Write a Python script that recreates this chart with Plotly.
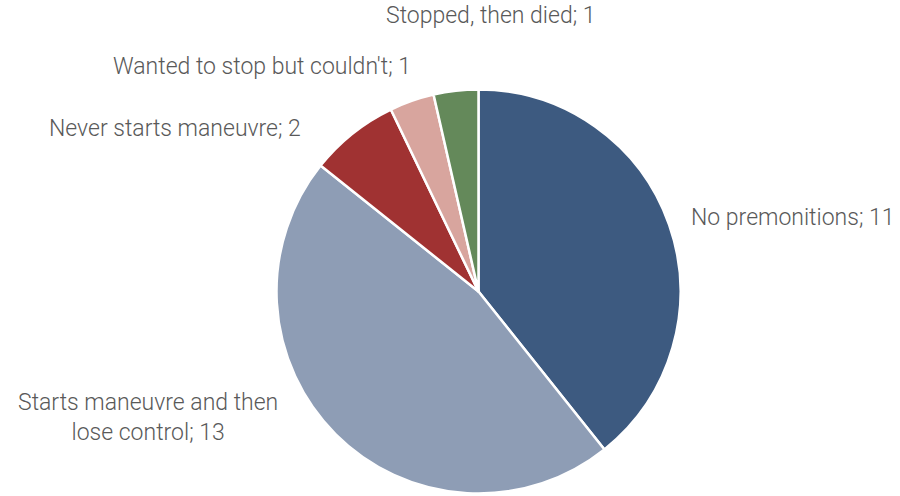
import plotly.graph_objects as go

# Outcome categories and counts
categories = [
    "No premonitions",
    "Starts maneuvre and then lose control",
    "Never starts maneuvre",
    "Wanted to stop but couldn't",
    "Stopped, then died",
]
counts = [11, 13, 2, 1, 1]
label_texts = [
    "No premonitions; 11",
    "Starts maneuvre and then<br>lose control; 13",
    "Never starts maneuvre; 2",
    "Wanted to stop but couldn't; 1",
    "Stopped, then died; 1",
]
colors = ["#3D5A80", "#8E9DB5", "#A03232", "#D8A59E", "#64895A"]

W, H = 900, 496
cx, cy, r = 478.5, 291.5, 202

fig = go.Figure(
    go.Pie(
        labels=categories,
        values=counts,
        sort=False,
        direction="clockwise",
        rotation=0,
        marker=dict(colors=colors, line=dict(color="white", width=2.5)),
        textinfo="none",
        hoverinfo="label+value",
        showlegend=False,
        domain=dict(
            x=[(cx - r) / W, (cx + r) / W],
            y=[1 - (cy + r) / H, 1 - (cy - r) / H],
        ),
    )
)

# Label placement (pixel anchors -> paper coordinates)
label_pos = [
    (689, 217, "left"),
    (148, 417, "center"),
    (303, 128, "right"),
    (413, 66, "right"),
    (384, 16, "left"),
]
font = dict(family="Roboto", size=23, color="#595959", weight=300)
for txt, (px, py, anchor) in zip(label_texts, label_pos):
    fig.add_annotation(
        x=px / W, y=1 - py / H, xref="paper", yref="paper",
        text=txt, showarrow=False, xanchor=anchor, yanchor="middle",
        align="center", font=font,
    )

fig.update_layout(
    width=W, height=H,
    margin=dict(l=0, r=0, t=0, b=0),
    paper_bgcolor="white",
    plot_bgcolor="white",
)

fig.write_html("out.html")
